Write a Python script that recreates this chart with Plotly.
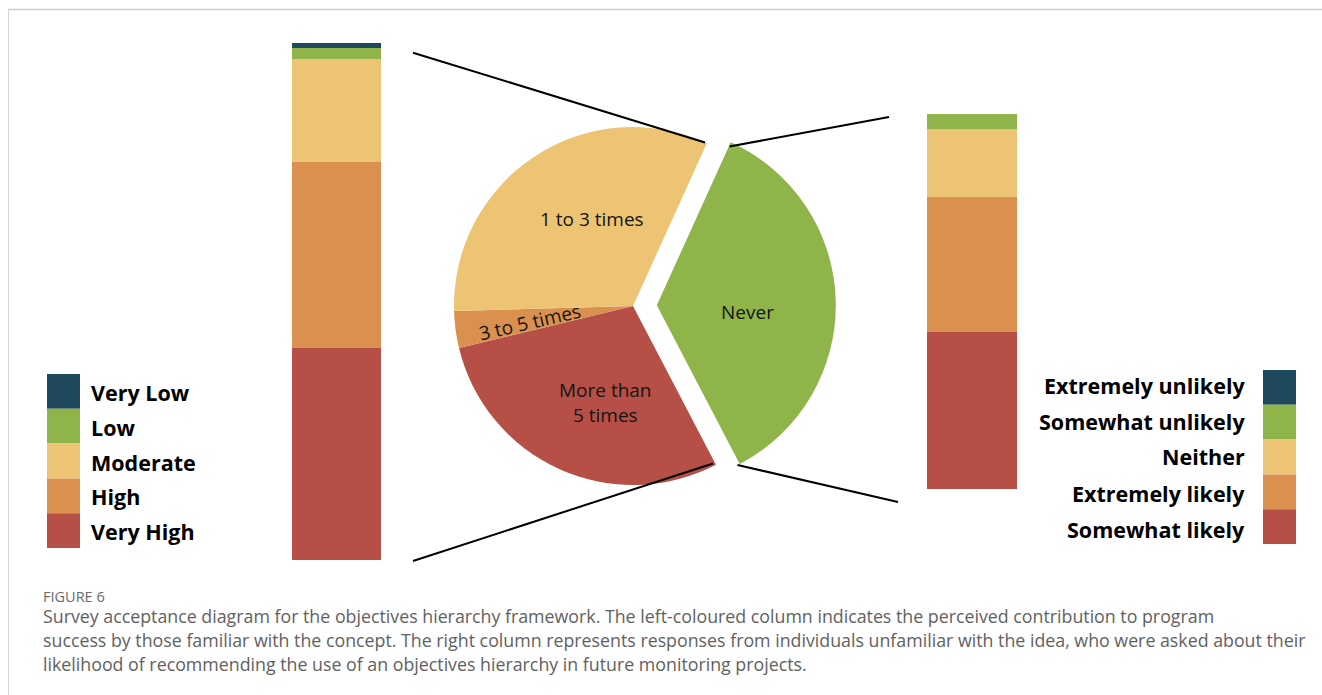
import plotly.graph_objects as go

# ---- data -------------------------------------------------------------
# Pie: how often respondents have used an objectives hierarchy
pie_labels = ["Never", "More than 5 times", "3 to 5 times", "1 to 3 times"]
pie_counts = [32, 26, 3, 29]

# Left column: perceived contribution to program success (%), bottom -> top
left_levels = ["Very High", "High", "Moderate", "Low", "Very Low"]
left_pct = [41, 36, 20, 2, 1]

# Right column: likelihood of recommending (%), bottom -> top
right_levels = ["Somewhat likely", "Extremely likely", "Neither",
                "Somewhat unlikely", "Extremely unlikely"]
right_pct = [42, 36, 18, 4, 0]

# ---- styling ----------------------------------------------------------
W, H = 1322, 695
C_BLUE = "#1F4A5D"
C_GREEN = "#8FB449"
C_YELLOW = "#ECC474"
C_ORANGE = "#DA904E"
C_RED = "#B65046"
level_colors = [C_RED, C_ORANGE, C_YELLOW, C_GREEN, C_BLUE]
pie_colors = [C_GREEN, C_RED, C_ORANGE, C_YELLOW]

FONT = "Open Sans"
TXT = "#141414"


def X(px):
    return px / W


def Y(py):
    return 1 - py / H


fig = go.Figure()

# stacked columns
for name, val, col in zip(left_levels, left_pct, level_colors):
    fig.add_trace(go.Bar(x=[0], y=[val], name=name, marker=dict(color=col, line=dict(width=0)),
                         width=1, xaxis="x", yaxis="y", hoverinfo="name+y"))
for name, val, col in zip(right_levels, right_pct, level_colors):
    fig.add_trace(go.Bar(x=[0], y=[val], name=name, marker=dict(color=col, line=dict(width=0)),
                         width=1, xaxis="x2", yaxis="y2", hoverinfo="name+y"))

# pie, "Never" pulled out
PULL = 0.133
R = 179
CX, CY = 633, 306
half = R * (1 + PULL)
fig.add_trace(go.Pie(
    labels=pie_labels, values=pie_counts, sort=False, direction="clockwise",
    rotation=24.4, pull=[PULL, 0, 0, 0],
    marker=dict(colors=pie_colors, line=dict(width=0)),
    textinfo="none", hoverinfo="label+percent",
    domain=dict(x=[X(CX - half), X(CX + half)], y=[Y(CY + half), Y(CY - half)]),
))

annotations = []
# slice labels
slice_text = {
    "1 to 3 times": (592, 219, 0),
    "3 to 5 times": (530, 322, -13),
    "Never": (747, 312, 0),
    "More than 5 times": (605, 402, 0),
}
for lab in pie_labels:
    x, y, ang = slice_text[lab]
    shown = lab.replace("More than ", "More than<br>")
    annotations.append(dict(x=X(x), y=Y(y), xref="paper", yref="paper", text=shown,
                            showarrow=False, textangle=ang, xanchor="center", yanchor="middle",
                            font=dict(family=FONT, size=19, color=TXT), align="center"))

shapes = []
# connector lines
for (x0, y0, x1, y1) in [(413, 52.7, 705, 142.5), (413, 561, 713, 463.5),
                         (729.5, 146.5, 889, 117), (737.5, 465, 898, 502)]:
    shapes.append(dict(type="line", xref="paper", yref="paper", x0=X(x0), y0=Y(y0),
                       x1=X(x1), y1=Y(y1), line=dict(color="black", width=2)))

# legend patches and labels
SW = 34.8
top_left = 374
for i, name in enumerate(reversed(left_levels)):
    col = list(reversed(level_colors))[i]
    y0 = top_left + i * SW
    shapes.append(dict(type="rect", xref="paper", yref="paper", x0=X(47), x1=X(80),
                       y0=Y(y0), y1=Y(y0 + SW), fillcolor=col, line=dict(width=0)))
    annotations.append(dict(x=X(89), y=Y(y0 + SW / 2 + 1), xref="paper", yref="paper", text=name,
                            showarrow=False, xanchor="left", yanchor="middle",
                            font=dict(family=FONT, size=21.5, color="black", weight="bold")))
top_right = 370
for i, name in enumerate(reversed(right_levels)):
    col = list(reversed(level_colors))[i]
    y0 = top_right + i * SW
    shapes.append(dict(type="rect", xref="paper", yref="paper", x0=X(1263), x1=X(1296),
                       y0=Y(y0), y1=Y(y0 + SW), fillcolor=col, line=dict(width=0)))
    annotations.append(dict(x=X(1247), y=Y(385 + 36 * i), xref="paper", yref="paper", text=name,
                            showarrow=False, xanchor="right", yanchor="middle",
                            font=dict(family=FONT, size=21.5, color="black", weight="bold")))

# frame
shapes.append(dict(type="line", xref="paper", yref="paper", x0=X(8), x1=1, y0=Y(9.5), y1=Y(9.5),
                   line=dict(color="#cfcfcf", width=1.5)))
shapes.append(dict(type="line", xref="paper", yref="paper", x0=X(8.5), x1=X(8.5), y0=Y(9.5), y1=0,
                   line=dict(color="#d5d5d5", width=1)))

# caption
CAP = "#616161"
annotations.append(dict(x=X(41), y=Y(596), xref="paper", yref="paper", text="FIGURE 6",
                        showarrow=False, xanchor="left", yanchor="middle",
                        font=dict(family=FONT, size=14.5, color="#6a6a6a")))
caption_lines = [
    "Survey acceptance diagram for the objectives hierarchy framework. The left-coloured column indicates the perceived contribution to program",
    "success by those familiar with the concept. The right column represents responses from individuals unfamiliar with the idea, who were asked about their",
    "likelihood of recommending the use of an objectives hierarchy in future monitoring projects.",
]
for k, line in enumerate(caption_lines):
    annotations.append(dict(x=X(41), y=Y(616 + 24 * k), xref="paper", yref="paper", text=line,
                            showarrow=False, xanchor="left", yanchor="middle",
                            font=dict(family=FONT, size=17.8, color=CAP)))

fig.update_layout(
    width=W, height=H, margin=dict(l=0, r=0, t=0, b=0),
    paper_bgcolor="white", plot_bgcolor="white",
    barmode="stack", showlegend=False,
    xaxis=dict(domain=[X(292), X(381)], range=[-0.5, 0.5], visible=False, fixedrange=True),
    yaxis=dict(domain=[Y(560), Y(43)], range=[0, 100], visible=False, fixedrange=True),
    xaxis2=dict(domain=[X(926.5), X(1017)], range=[-0.5, 0.5], visible=False, anchor="y2"),
    yaxis2=dict(domain=[Y(489), Y(114)], range=[0, 100], visible=False, anchor="x2"),
    shapes=shapes, annotations=annotations,
)

fig.write_html("out.html")
